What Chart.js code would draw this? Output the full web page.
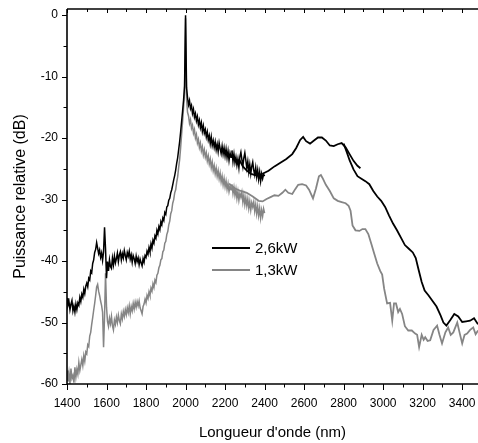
<!DOCTYPE html>
<html><head><meta charset="utf-8">
<script src="https://cdn.jsdelivr.net/npm/chart.js@4/dist/chart.umd.min.js"></script>
<style>html,body{margin:0;padding:0;background:#fff;}</style>
</head><body>
<canvas id="c" width="478" height="443"></canvas>
<script>
// ---------- DATA ----------
const seriesNames = ['2,6kW', '1,3kW'];
const xTickValues = [1400, 1600, 1800, 2000, 2200, 2400, 2600, 2800, 3000, 3200, 3400];
const xMinorValues = [1500, 1700, 1900, 2100, 2300, 2500, 2700, 2900, 3100, 3300];
const yTickValues = [0, -10, -20, -30, -40, -50, -60];
const yMinorValues = [-5, -15, -25, -35, -45, -55];

// Short-wave spectrometer (noisy), sampled every 5 nm from 1400 to 2400 nm
const noisyStartNm = 1400, noisyStepNm = 5;
const black26Noisy = [
 -46.0,-47.2,-46.6,-47.9,-47.0,-46.4,-48.1,-47.3,-48.3,-47.0,
 -47.9,-46.8,-47.2,-45.9,-46.6,-45.4,-45.9,-44.6,-45.3,-44.1,
 -43.6,-44.2,-42.8,-43.1,-41.6,-41.9,-40.4,-39.8,-38.6,-38.1,
 -37.0,-37.9,-38.8,-38.2,-39.4,-38.7,-39.9,-38.5,-34.5,-38.0,
 -42.8,-40.1,-41.6,-39.8,-40.9,-41.2,-39.5,-40.6,-39.2,-40.3,
 -39.6,-38.7,-40.1,-39.0,-38.5,-39.8,-38.8,-39.5,-38.3,-39.1,
 -39.8,-38.6,-39.2,-38.4,-39.7,-39.0,-40.2,-39.1,-39.6,-40.4,
 -39.2,-40.1,-39.5,-40.6,-39.7,-40.3,-40.8,-39.6,-40.2,-39.1,
 -39.4,-38.4,-38.9,-37.8,-38.5,-37.2,-37.9,-36.6,-37.1,-35.9,
 -36.3,-35.0,-35.6,-34.4,-34.9,-33.6,-34.1,-33.0,-33.4,-32.1,
 -32.4,-31.2,-31.0,-30.1,-29.8,-28.9,-28.4,-27.6,-26.8,-26.1,
 -25.2,-24.1,-23.2,-21.9,-20.6,-19.0,-17.3,-15.6,-13.8,-11.5,
 0.0,-11.8,-13.4,-14.6,-13.9,-15.2,-14.7,-16.0,-15.3,-16.6,
 -16.0,-17.2,-16.5,-17.8,-17.1,-18.3,-17.5,-18.9,-18.0,-19.2,
 -18.6,-19.8,-19.0,-20.3,-19.6,-20.9,-19.8,-21.2,-20.4,-21.5,
 -20.6,-21.9,-21.0,-22.2,-20.8,-21.7,-22.5,-21.3,-22.6,-21.6,
 -22.9,-21.8,-23.2,-22.1,-23.6,-22.4,-23.1,-22.0,-23.8,-22.6,
 -24.0,-23.1,-24.4,-23.4,-24.8,-23.0,-22.3,-23.5,-24.6,-23.2,
 -22.4,-23.6,-24.9,-23.8,-25.5,-24.3,-25.8,-24.6,-23.9,-25.2,
 -26.0,-24.8,-26.3,-25.2,-26.7,-25.5,-27.0,-25.8,-26.6,-25.9,
 -26.2
];
const gray13Noisy = [
 -57.8,-59.6,-58.2,-60.0,-57.5,-59.1,-58.6,-59.8,-57.3,-58.9,
 -57.6,-58.4,-56.5,-57.8,-56.9,-56.0,-57.0,-55.4,-56.3,-54.8,
 -55.1,-53.6,-53.9,-52.2,-51.6,-50.3,-49.2,-48.0,-46.9,-45.6,
 -44.2,-43.8,-44.9,-45.6,-46.5,-47.2,-48.3,-54.0,-49.0,-42.0,
 -47.5,-49.8,-50.6,-49.3,-50.2,-49.0,-50.5,-51.2,-49.6,-50.3,
 -49.1,-50.0,-48.8,-49.7,-50.2,-48.6,-49.4,-48.2,-49.0,-47.9,
 -48.7,-47.6,-48.4,-47.3,-48.6,-47.4,-48.1,-46.9,-47.8,-46.7,
 -47.5,-46.6,-47.3,-46.5,-47.6,-48.1,-48.6,-47.4,-47.0,-46.2,
 -46.8,-45.6,-46.1,-45.0,-45.6,-44.4,-44.9,-43.7,-44.3,-43.1,
 -43.5,-42.3,-42.0,-41.1,-40.7,-39.8,-39.6,-38.5,-38.2,-37.1,
 -36.8,-35.7,-35.2,-34.1,-33.5,-32.3,-31.8,-30.6,-30.0,-28.9,
 -28.4,-27.2,-26.3,-24.8,-23.5,-21.6,-19.4,-17.3,-15.0,-12.5,
 -0.5,-13.6,-15.8,-16.4,-17.6,-17.0,-18.4,-17.9,-19.2,-18.6,
 -20.0,-19.4,-20.8,-20.2,-21.5,-20.8,-22.1,-21.4,-22.7,-21.9,
 -23.1,-22.4,-23.7,-22.9,-24.2,-23.4,-24.8,-23.9,-25.3,-24.5,
 -25.8,-24.9,-26.2,-25.3,-26.6,-25.7,-27.1,-26.2,-27.6,-26.6,
 -27.9,-27.0,-28.3,-27.4,-28.7,-27.8,-28.4,-27.5,-29.0,-28.0,
 -29.3,-28.3,-29.8,-28.7,-30.1,-29.0,-29.6,-28.8,-30.4,-29.3,
 -30.8,-29.7,-31.0,-29.9,-31.4,-30.3,-31.7,-30.5,-31.2,-30.4,
 -31.9,-30.8,-32.3,-31.1,-32.6,-31.4,-33.0,-31.7,-32.7,-31.5,
 -32.2
];

// Long-wave spectrometer (smooth), black, first segment
const black26MidNm = [2270,2290,2310,2330,2350,2370,2390,2420,2450,2480,2510,2540,2560,2580,2595,2610,2630,2650,2670,2690,2710,2730,2750,2770,2790,2810,2830,2850,2870,2885];
const black26MidDb = [-23.4,-24.6,-25.3,-25.8,-26.0,-26.0,-25.8,-25.3,-24.6,-24.0,-23.4,-22.6,-21.6,-20.3,-19.8,-20.5,-20.9,-20.4,-19.9,-19.9,-20.4,-21.2,-21.3,-21.0,-20.8,-21.5,-22.6,-23.7,-24.5,-24.9];
// black, last segment
const black26LongNm = [2800,2815,2830,2850,2870,2890,2910,2930,2950,2970,2990,3010,3030,3050,3070,3090,3110,3130,3150,3165,3180,3195,3210,3230,3250,3270,3290,3305,3320,3340,3360,3380,3400,3420,3440,3460,3480];
const black26LongDb = [-20.9,-22.2,-23.6,-25.1,-26.2,-26.6,-27.0,-27.5,-28.6,-29.5,-30.2,-31.2,-32.6,-33.9,-35.0,-36.2,-37.4,-38.0,-38.6,-39.5,-41.5,-43.4,-44.8,-45.6,-46.5,-47.4,-48.8,-50.0,-50.5,-49.6,-48.6,-49.0,-49.9,-49.8,-49.7,-49.3,-50.3];
// gray, long-wave part
const gray13LongNm = [2220,2250,2280,2310,2340,2370,2390,2410,2430,2450,2470,2490,2505,2520,2540,2555,2570,2590,2610,2625,2645,2660,2675,2685,2695,2710,2730,2750,2770,2790,2810,2825,2835,2845,2860,2880,2895,2910,2925,2940,2955,2970,2985,2995,3005,3020,3035,3046,3055,3065,3076,3085,3096,3110,3127,3145,3162,3172,3182,3195,3205,3213,3225,3238,3255,3273,3285,3298,3315,3329,3342,3355,3375,3388,3400,3412,3425,3440,3456,3468,3480];
const gray13LongDb = [-27.4,-28.2,-28.6,-28.9,-29.5,-30.2,-30.3,-29.9,-29.6,-29.3,-29.4,-28.9,-28.4,-28.9,-29.1,-28.3,-27.6,-27.5,-27.7,-28.4,-29.8,-28.2,-26.2,-26.0,-26.6,-27.6,-28.6,-29.8,-30.2,-30.4,-30.6,-31.0,-31.8,-34.2,-35.0,-35.1,-34.8,-34.8,-35.6,-37.2,-38.8,-40.4,-41.6,-42.2,-44.5,-46.9,-46.8,-49.7,-46.9,-46.9,-48.3,-47.8,-48.6,-50.6,-51.3,-51.3,-51.8,-52.0,-54.0,-52.0,-52.8,-52.4,-53.0,-52.9,-51.2,-50.5,-52.0,-53.4,-51.6,-50.8,-52.0,-51.6,-50.0,-51.8,-53.4,-52.0,-51.8,-51.2,-50.8,-51.9,-51.3];

// ---------- BUILD ----------
const BLACK = '#000000', GRAY = '#858585';
const FONT = "'Liberation Sans', Arial, Helvetica, sans-serif";
const noisyPts = arr => arr.map((v, i) => ({x: noisyStartNm + i * noisyStepNm, y: v}));
const pairPts = (xs, ys) => xs.map((v, i) => ({x: v, y: ys[i]}));

const datasets = [
  {label: seriesNames[0], data: noisyPts(black26Noisy), borderColor: BLACK, borderWidth: 1.5},
  {label: seriesNames[0], data: pairPts(black26MidNm, black26MidDb), borderColor: BLACK, borderWidth: 1.8},
  {label: seriesNames[0], data: pairPts(black26LongNm, black26LongDb), borderColor: BLACK, borderWidth: 1.8},
  {label: seriesNames[1], data: noisyPts(gray13Noisy), borderColor: GRAY, borderWidth: 1.5},
  {label: seriesNames[1], data: pairPts(gray13LongNm, gray13LongDb), borderColor: GRAY, borderWidth: 1.8},
];
datasets.forEach(d => { d.pointRadius = 0; d.fill = false; d.tension = 0; });

Chart.defaults.font.family = FONT;
Chart.defaults.color = '#000';

const zeroPad = s => { s.paddingLeft = 0; s.paddingRight = 0; s.paddingTop = 0; s.paddingBottom = 0; };

const decor = {
  id: 'decor',
  afterDatasetsDraw(chart) {
    const {ctx, chartArea: a, scales: {x, y}} = chart;
    ctx.save();
    ctx.strokeStyle = '#000';
    ctx.lineWidth = 1;
    const vt = (px, y0, y1) => { ctx.beginPath(); ctx.moveTo(px, y0); ctx.lineTo(px, y1); ctx.stroke(); };
    const ht = (py, x0, x1) => { ctx.beginPath(); ctx.moveTo(x0, py); ctx.lineTo(x1, py); ctx.stroke(); };
    xTickValues.forEach(v => { const p = Math.round(x.getPixelForValue(v)) + 0.5; vt(p, a.bottom, a.bottom + 6); vt(p, a.top, a.top + 4); });
    xMinorValues.forEach(v => { const p = Math.round(x.getPixelForValue(v)) + 0.5; vt(p, a.bottom, a.bottom + 3.5); vt(p, a.top, a.top + 3); });
    yTickValues.forEach(v => { const p = Math.round(y.getPixelForValue(v)) + 0.5; ht(p, a.left - 5, a.left); });
    yMinorValues.forEach(v => { const p = Math.round(y.getPixelForValue(v)) + 0.5; ht(p, a.left - 3.5, a.left); });
    // axis lines
    ctx.lineWidth = 1.6;
    vt(a.left, a.top, a.bottom + 0.8);
    ht(a.bottom, a.left, a.right);
    ht(a.top, a.left, a.right);
    // axis titles
    ctx.fillStyle = '#000';
    ctx.textAlign = 'center';
    ctx.textBaseline = 'middle';
    ctx.font = '15px ' + FONT;
    ctx.fillText("Longueur d'onde (nm)", (a.left + a.right) / 2, 433);
    ctx.save();
    ctx.translate(21, (a.top + a.bottom) / 2);
    ctx.rotate(-Math.PI / 2);
    ctx.font = '16px ' + FONT;
    ctx.fillText('Puissance relative (dB)', 0, 0);
    ctx.restore();
    // legend
    const lx = a.left + 145, ly = a.top + 239;
    [BLACK, GRAY].forEach((c, i) => {
      ctx.strokeStyle = c; ctx.lineWidth = 2;
      ht(ly + i * 22, lx, lx + 38);
      ctx.fillStyle = '#000';
      ctx.textAlign = 'left';
      ctx.font = '15px ' + FONT;
      ctx.fillText(seriesNames[i], lx + 43, ly + i * 22 + 1);
    });
    ctx.restore();
  }
};

new Chart(document.getElementById('c'), {
  type: 'line',
  data: {datasets},
  options: {
    responsive: false, animation: false, devicePixelRatio: 1,
    layout: {padding: {top: 9, right: 0, left: 0, bottom: 0}},
    plugins: {legend: {display: false}, tooltip: {enabled: false}},
    scales: {
      x: {
        type: 'linear', min: 1400, max: 3480,
        grid: {display: false, drawTicks: false}, border: {display: false},
        afterBuildTicks: s => { s.ticks = xTickValues.map(v => ({value: v})); },
        afterFit: s => { s.height = 59; zeroPad(s); },
        ticks: {padding: 12, color: '#000', font: {size: 12}, maxRotation: 0, autoSkip: false, callback: v => String(v)}
      },
      y: {
        type: 'linear', min: -60, max: 1,
        grid: {display: false, drawTicks: false}, border: {display: false},
        afterBuildTicks: s => { s.ticks = yTickValues.map(v => ({value: v})); },
        afterFit: s => { s.width = 67; zeroPad(s); },
        ticks: {padding: 9, color: '#000', font: {size: 12}, autoSkip: false, callback: v => String(v)}
      }
    }
  },
  plugins: [decor]
});
</script>
</body></html>
